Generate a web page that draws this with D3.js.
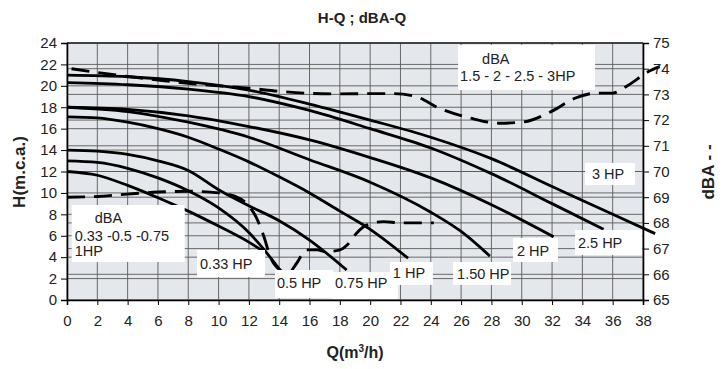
<!DOCTYPE html>
<html>
<head>
<meta charset="utf-8">
<script src="https://cdn.jsdelivr.net/npm/d3@7"></script>
<style>
  body { margin: 0; background: #fff; }
  svg text { font-family: "Liberation Sans Narrow", "Arial Narrow", "Liberation Sans", sans-serif; }
  .lbl { font-family: "Liberation Sans", Arial, sans-serif; }
</style>
</head>
<body>
<svg width="725" height="369"></svg>
<script>
// H-Q curves, Q in m3/h, H in m.c.a.
const hp033 = [[0,12],[2,11.65],[4,10.7],[6,9.55],[8,8.3],[10,6.9],[12,5.4],[13.1,4.4]];
const hp05  = [[0,13],[2,12.85],[4,12.3],[6,11.4],[8,10.2],[10,8.6],[12,6.3],[13,4.7],[14.05,2.8]];
const hp075 = [[0,14],[2,13.9],[4,13.6],[6,13.0],[8,12.1],[10,10.3],[12,8.8],[14,7.4],[16,5.6],[18.45,2.8]];
const hp1   = [[0,17.1],[2,17.0],[4,16.6],[6,16.0],[8,15.2],[10,14.1],[12,12.9],[14,11.5],[16,10.0],[18,8.3],[20,6.6],[22.5,3.9]];
const hp15  = [[0,18],[4,17.6],[8,16.6],[12,15.2],[16,13.1],[20,11.0],[24,8.2],[26,6.4],[27.9,4.1]];
const hp2   = [[0,18],[4,17.8],[8,17.2],[12,16.2],[16,14.95],[20,13.3],[24,11.4],[28,8.9],[32.1,5.9]];
const hp25  = [[0,20.3],[4,20.1],[8,19.7],[12,19.0],[16,17.7],[20,16.0],[24,14.2],[28,11.8],[32,9.0],[35.4,6.6]];
const hp3   = [[0,21],[4,20.85],[8,20.4],[12,19.6],[16,18.3],[20,16.8],[24,15.2],[28,13.2],[32,10.6],[36,8.0],[38.8,6.2]];
const hqSeries = [hp033, hp05, hp075, hp1, hp15, hp2, hp25, hp3];

// dBA-Q curves (right axis)
const dbaSmall = [[0,69.0],[2,69.03],[4,69.12],[6,69.2],[8,69.23],[10,69.17],[11,69.05],[11.85,68.75],[12.5,68.2],[13,67.45],
  [13.4,66.7],[14.05,66.17],[14.6,66.05],[15.15,66.43],[15.8,66.95],[16.5,66.95],[17.1,66.88],[18,66.95],[18.5,67.15],
  [19.1,67.6],[19.8,67.92],[20.9,68.05],[22,68.0],[24.2,68.0]];
const dbaBig = [[0.3,74.0],[2,73.85],[4,73.7],[6,73.56],[8,73.43],[10,73.33],[12,73.24],[14,73.12],[16,73.04],[18,73.02],
  [20,73.03],[21.5,73.03],[23,72.92],[24.6,72.45],[26.6,72.08],[28.5,71.88],[30,71.92],[32,72.35],[33.5,72.85],[35,73.05],
  [36,73.05],[37,73.35],[38.4,73.9],[39.1,74.08]];

const qTicks = d3.range(0, 39, 2);
const hTicks = d3.range(0, 25, 2);
const dbaTicks = d3.range(65, 76, 1);

const hpLabels = ['0.33 HP', '0.5 HP', '0.75 HP', '1 HP', '1.50 HP', '2 HP', '2.5 HP', '3 HP'];
const dbaLabelBig = ['dBA', '1.5 - 2 - 2.5 - 3HP'];
const dbaLabelSmall = ['dBA', '0.33 -0.5 -0.75', '1HP'];

const svg = d3.select('svg');

const mLeft = 67, mRight = 643, mTop = 43, mBottom = 300;

const x = d3.scaleLinear().domain([0, 38]).range([mLeft, mRight]);
const yL = d3.scaleLinear().domain([0, 24]).range([mBottom, mTop]);
const yR = d3.scaleLinear().domain([65, 75]).range([mBottom, mTop]);

// plot background
svg.append('rect')
    .attr('x', mLeft).attr('y', mTop)
    .attr('width', mRight - mLeft).attr('height', mBottom - mTop)
    .attr('fill', '#e4e7eb');

// grid
const grid = svg.append('g').attr('stroke', '#5a5a5a').attr('stroke-width', 0.9);
grid.selectAll('.vx').data(qTicks).join('line')
    .attr('x1', d => x(d)).attr('x2', d => x(d))
    .attr('y1', mTop).attr('y2', mBottom);
grid.selectAll('.hl').data(hTicks).join('line')
    .attr('x1', mLeft).attr('x2', mRight)
    .attr('y1', d => yL(d)).attr('y2', d => yL(d));
grid.selectAll('.hr').data(dbaTicks).join('line')
    .attr('x1', mLeft).attr('x2', mRight)
    .attr('y1', d => yR(d)).attr('y2', d => yR(d));

// curves
const lineL = d3.line().x(d => x(d[0])).y(d => yL(d[1])).curve(d3.curveMonotoneX);
const lineR = d3.line().x(d => x(d[0])).y(d => yR(d[1])).curve(d3.curveMonotoneX);

svg.append('g').selectAll('path').data(hqSeries).join('path')
    .attr('d', d => lineL(d))
    .attr('fill', 'none')
    .attr('stroke', '#000')
    .attr('stroke-width', 2.8);

svg.append('g').selectAll('path').data([dbaSmall, dbaBig]).join('path')
    .attr('d', d => lineR(d))
    .attr('fill', 'none')
    .attr('stroke', '#000')
    .attr('stroke-width', 2.9)
    .attr('stroke-dasharray', '18,9');

// label boxes, anchored in data units (top-left corner)
const hpBoxes = [
    {q: 8.58, h: 4.67, w: 68, ht: 27, dx: 3, dy: 19},
    {q: 13.72, h: 2.8, w: 58, ht: 28, dx: 2, dy: 18},
    {q: 17.55, h: 2.61, w: 65, ht: 27, dx: 2, dy: 16},
    {q: 21.3, h: 3.55, w: 43, ht: 23, dx: 3, dy: 16},
    {q: 25.47, h: 3.55, w: 58, ht: 23, dx: 4, dy: 17},
    {q: 29.42, h: 5.79, w: 45, ht: 24, dx: 4, dy: 18},
    {q: 33.51, h: 6.54, w: 67, ht: 25, dx: 3, dy: 18},
    {q: 34.17, h: 12.8, w: 50, ht: 22, dx: 7, dy: 16}
];

const labels = svg.append('g');
hpBoxes.forEach((b, i) => {
    const g = labels.append('g').attr('transform', `translate(${x(b.q)},${yL(b.h)})`);
    g.append('rect').attr('width', b.w).attr('height', b.ht).attr('fill', '#fff');
    g.append('text').attr('class', 'lbl').attr('x', b.dx).attr('y', b.dy)
        .attr('font-size', 14.5).attr('fill', '#222').text(hpLabels[i]);
});

const dbaBoxes = [
    {q: 25.8, h: 23.81, w: 137, ht: 45, lines: dbaLabelBig, pos: [[24, 19], [2, 36]]},
    {q: 0.31, h: 8.87, w: 113, ht: 57, lines: dbaLabelSmall, pos: [[23, 18], [3, 36], [3, 51]]}
];
dbaBoxes.forEach(b => {
    const g = labels.append('g').attr('transform', `translate(${x(b.q)},${yL(b.h)})`);
    g.append('rect').attr('width', b.w).attr('height', b.ht).attr('fill', '#fff');
    b.lines.forEach((t, j) => {
        g.append('text').attr('class', 'lbl')
            .attr('x', b.pos[j][0]).attr('y', b.pos[j][1])
            .attr('font-size', 14.5).attr('fill', '#222').text(t);
    });
});

// axes
const xAxis = d3.axisBottom(x).tickValues(qTicks).tickSize(5).tickPadding(10);
const yAxisL = d3.axisLeft(yL).tickValues(hTicks).tickSize(6).tickPadding(4);
const yAxisR = d3.axisRight(yR).tickValues(dbaTicks).tickSize(6).tickPadding(4);

svg.append('g').attr('transform', `translate(0,${mBottom})`).call(xAxis);
svg.append('g').attr('transform', `translate(${mLeft},0)`).call(yAxisL);
svg.append('g').attr('transform', `translate(${mRight},0)`).call(yAxisR);

svg.selectAll('.domain').attr('stroke', '#000').attr('stroke-width', 1.6);
svg.selectAll('.tick line').attr('stroke', '#000').attr('stroke-width', 1);
svg.selectAll('.tick text')
    .attr('font-size', 15)
    .attr('fill', '#222')
    .style('font-family', '"Liberation Sans Narrow", "Arial Narrow", sans-serif');

svg.append('line')
    .attr('x1', mLeft).attr('x2', mRight).attr('y1', mTop).attr('y2', mTop)
    .attr('stroke', '#000').attr('stroke-width', 1.2);

// titles
svg.append('text')
    .attr('x', 362).attr('y', 23)
    .attr('text-anchor', 'middle')
    .attr('font-size', 15).attr('font-weight', 'bold').attr('fill', '#222')
    .text('H-Q ; dBA-Q');

const xt = svg.append('text')
    .attr('x', 355).attr('y', 358)
    .attr('text-anchor', 'middle')
    .attr('font-size', 16).attr('font-weight', 'bold').attr('fill', '#222');
xt.append('tspan').text('Q(m');
xt.append('tspan').attr('font-size', 10).attr('dy', -6).text('3');
xt.append('tspan').attr('dy', 6).text('/h)');

svg.append('text')
    .attr('transform', 'translate(25,172) rotate(-90)')
    .attr('text-anchor', 'middle')
    .attr('font-size', 17).attr('font-weight', 'bold').attr('fill', '#222')
    .style('font-family', '"Liberation Sans", Arial, sans-serif')
    .text('H(m.c.a.)');

svg.append('text')
    .attr('transform', 'translate(714,172) rotate(-90)')
    .attr('text-anchor', 'middle')
    .attr('font-size', 17).attr('font-weight', 'bold').attr('fill', '#222')
    .style('font-family', '"Liberation Sans", Arial, sans-serif')
    .text('dBA - -');
</script>
</body>
</html>
